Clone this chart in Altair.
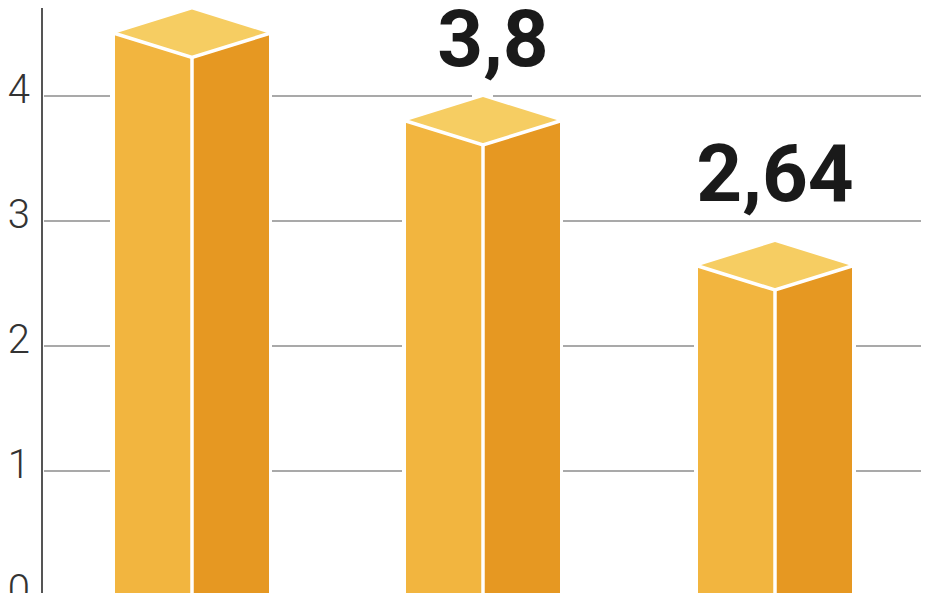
import altair as alt
import pandas as pd

# Values
categories = ["A", "B", "C"]
values = [4.5, 3.8, 2.64]
labels = ["4,5", "3,8", "2,64"]
label_levels = [4.85, 4.24, 3.16]
label_centers = [192, 493, 775]
ticks = [0, 1, 2, 3, 4]
centers = [192, 483, 775]      # horizontal category positions on a pixel-like scale
half_width = 77
depth = 0.192                   # isometric depth in value units

bars_left, bars_right, tops, lines = [], [], [], []
for cat, v, c in zip(categories, values, centers):
    bars_left += [dict(cat=cat, x=c - half_width, y0=0, y1=v),
                  dict(cat=cat, x=c, y0=0, y1=v - depth)]
    bars_right += [dict(cat=cat, x=c, y0=0, y1=v - depth),
                   dict(cat=cat, x=c + half_width, y0=0, y1=v)]
    tops += [dict(cat=cat, x=c - half_width, y0=v, y1=v),
             dict(cat=cat, x=c, y0=v - depth, y1=v + depth),
             dict(cat=cat, x=c + half_width, y0=v, y1=v)]
    lines += [dict(cat=cat, x=c - half_width, y=v, o=0),
              dict(cat=cat, x=c, y=v - depth, o=1),
              dict(cat=cat, x=c + half_width, y=v, o=2)]

# Gridline stretches per tick: the lines stop short of whatever bar they meet
grid_spans = {
    1: [(44, 110), (272, 402), (563, 694), (856, 921)],
    2: [(44, 110), (272, 402), (563, 694), (856, 921)],
    3: [(44, 110), (272, 402), (563, 921)],
    4: [(44, 110), (272, 472), (493, 921)],
}
grid = [dict(x=a, x2=b, y=t) for t, spans in grid_spans.items() for a, b in spans]

W, H = 932, 585
xs = alt.Scale(domain=[8, 940], nice=False, zero=False)
ys = alt.Scale(domain=[(596 - 593) / 125, (596 - 8) / 125], nice=False, zero=False)
X = lambda f: alt.X(f, type="quantitative", scale=xs, axis=None)
Y = lambda f: alt.Y(f, type="quantitative", scale=ys, axis=None)

grid_layer = alt.Chart(pd.DataFrame(grid)).mark_rule(color="#a9a9a9", strokeWidth=1.8).encode(
    x=X("x"), x2="x2", y=Y("y"))

axis_layer = alt.Chart(pd.DataFrame({"x": [42]})).mark_rule(color="#555555", strokeWidth=2).encode(
    x=X("x"), y=alt.value(0), y2=alt.value(H))

tick_df = pd.DataFrame({"x": [30] * 5, "y": ticks, "t": [str(t) for t in ticks]})
tick_layer = alt.Chart(tick_df).mark_text(
    align="right", baseline="middle", font="Roboto", fontWeight=300, fontSize=40, color="#333333", dy=-5
).encode(x=X("x"), y=Y("y"), text="t:N")

def face(rows, color):
    return alt.Chart(pd.DataFrame(rows)).mark_area(color=color, opacity=1).encode(
        x=X("x"), y=Y("y0"), y2="y1", detail="cat:N")

left = face(bars_left, "#f2b53f")
right = face(bars_right, "#e69822")
top = face(tops, "#f6cd62")

outline = alt.Chart(pd.DataFrame(lines)).mark_line(color="white", strokeWidth=3.5).encode(
    x=X("x"), y=Y("y"), detail="cat:N", order="o:Q")
spine = alt.Chart(pd.DataFrame([dict(x=c, y=v - depth) for c, v in zip(centers, values)])).mark_rule(
    color="white", strokeWidth=3.5).encode(x=X("x"), y=Y("y"), y2=alt.Y2(datum=0))

label_df = pd.DataFrame({"x": label_centers, "y": label_levels, "t": labels})
label_layer = alt.Chart(label_df).mark_text(
    align="center", baseline="alphabetic", font="Roboto", fontWeight="bold", fontSize=80, color="#1a1a1a"
).encode(x=X("x"), y=Y("y"), text="t:N")

chart = alt.layer(grid_layer, axis_layer, tick_layer, left, right, top, outline, spine, label_layer).properties(
    width=W, height=H, padding=0, autosize=alt.AutoSizeParams(type="none"), background="white"
).configure_view(stroke=None)

chart.save("out.html", embed_options={"renderer": "svg", "actions": False})
